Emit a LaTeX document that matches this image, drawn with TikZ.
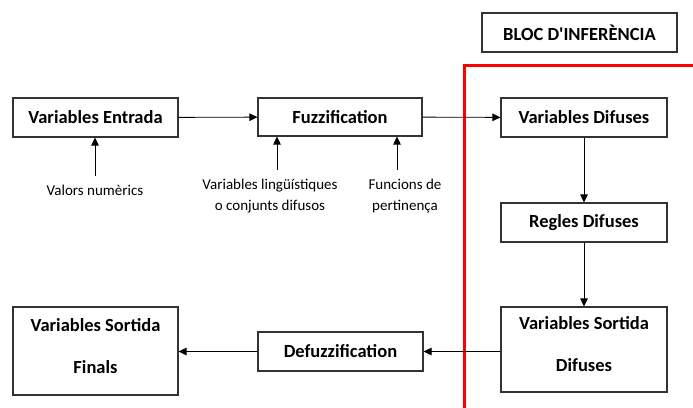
\documentclass[tikz,border=0pt]{standalone}
\usepackage{fontspec}
\setmainfont{Carlito}[Ligatures=TeXOff]
\usetikzlibrary{arrows.meta}
\begin{document}
\begin{tikzpicture}[x=1pt,y=-1pt,
  box/.style={draw=black!80,line width=1.1pt,fill=white,inner sep=0pt,font=\bfseries\fontsize{18.5}{22}\selectfont},
  tallbox/.style={box,align=center,font=\bfseries\fontsize{18.5}{42}\selectfont,text depth=11pt},
  lbl/.style={inner sep=0pt,align=center,font=\fontsize{15}{21}\selectfont},
  arr/.style={line width=0.9pt,-{Triangle[length=8pt,width=7.5pt]}}]
\useasboundingbox (0,0) rectangle (693,407);
% red block border
\draw[red,line width=3pt] (693,65) -- (464,65) -- (464,409);
\node[box,minimum width=195pt,minimum height=39pt] (bloc) at (579.5,32.5) {BLOC D'INFERÈNCIA};
\node[box,minimum width=165pt,minimum height=39pt] (ent) at (95.5,117.5) {Variables Entrada};
\node[box,minimum width=164pt,minimum height=38pt] (fuz) at (340,117) {Fuzzification};
\node[box,minimum width=166pt,minimum height=39pt] (vd) at (584,117.5) {Variables Difuses};
\node[box,minimum width=166pt,minimum height=39pt] (rd) at (584,222.5) {Regles Difuses};
\node[tallbox,minimum width=166pt,minimum height=85pt] (vsd) at (584,349.5) {Variables Sortida\\Difuses};
\node[tallbox,minimum width=165pt,minimum height=88pt] (vsf) at (95.5,351) {Variables Sortida\\Finals};
\node[box,minimum width=165pt,minimum height=39pt] (def) at (340.5,351.5) {Defuzzification};
% labels
\node[lbl] (vn) at (95,190) {Valors numèrics};
\node[lbl] (vl) at (270,196.5) {Variables lingüístiques\\o conjunts difusos};
\node[lbl] (fp) at (405,196.5) {Funcions de\\pertinença};
\coordinate (a1) at (95,176);
\coordinate (a2) at (277,170);
\coordinate (a3) at (397,170);
% connectors
\draw[arr] (ent) -- (fuz);
\draw[arr] (fuz) -- (vd);
\draw[arr] (vd) -- (rd);
\draw[arr] (rd) -- (vsd);
\draw[arr] (vsd.west |- def) -- (def);
\draw[arr] (def) -- (vsf.east |- def);
\draw[arr] (a1) -- (a1 |- ent.south);
\draw[arr] (a2) -- (a2 |- fuz.south);
\draw[arr] (a3) -- (a3 |- fuz.south);
\end{tikzpicture}
\end{document}
